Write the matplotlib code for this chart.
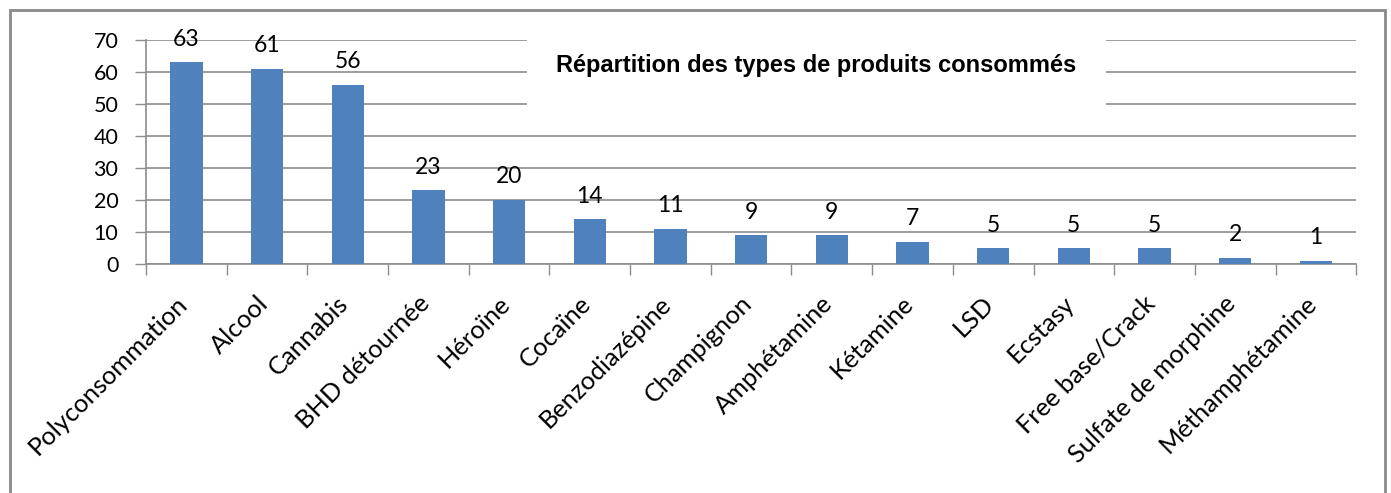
import matplotlib

matplotlib.use("Agg")
import matplotlib.pyplot as plt  # noqa: E402
from matplotlib.patches import Rectangle  # noqa: E402

produits = [
    "Polyconsommation", "Alcool", "Cannabis", "BHD détournée", "Héroïne",
    "Cocaïne", "Benzodiazépine", "Champignon", "Amphétamine", "Kétamine",
    "LSD", "Ecstasy", "Free base/Crack", "Sulfate de morphine", "Méthamphétamine",
]
effectifs = [63, 61, 56, 23, 20, 14, 11, 9, 9, 7, 5, 5, 5, 2, 1]
titre = "Répartition des types de produits consommés"

BAR = "#4F81BD"
GRID = "#8C8C8C"
FONT = "Lato"

fig = plt.figure(figsize=(13.91, 4.93), dpi=100)
ax = fig.add_axes([0.105, 0.4645, 0.870, 0.4544])

x = list(range(len(produits)))
bars = ax.bar(x, effectifs, width=0.4, color=BAR, zorder=3)
for b, v in zip(bars, effectifs):
    ax.annotate(str(v), (b.get_x() + b.get_width() / 2, v), xytext=(0, 9),
                textcoords="offset points", ha="center", va="bottom",
                fontsize=16.5, family=FONT, color="black")

ax.set_xlim(-0.5, len(produits) - 0.5)
ax.set_ylim(0, 70)
ax.set_yticks(range(0, 71, 10))
# category boundaries get the tick marks, names are placed under each bar
ax.set_xticks([i - 0.5 for i in range(len(produits) + 1)])
ax.set_xticklabels([])
for i, nom in enumerate(produits):
    ax.annotate(nom, (i, 0), xycoords=("data", "axes fraction"),
                xytext=(-8, -20), textcoords="offset points",
                rotation=45, ha="right", va="top", rotation_mode="anchor",
                fontsize=18.3, family=FONT)
ax.tick_params(axis="x", length=8, color=GRID, width=1)
ax.tick_params(axis="y", length=8, color=GRID, width=1, labelsize=15.5, pad=12)
for lab in ax.get_yticklabels():
    lab.set_family(FONT)

ax.grid(axis="y", color=GRID, linewidth=1.2, zorder=0)
ax.set_axisbelow(True)
for s in ("top", "right"):
    ax.spines[s].set_visible(False)
for s in ("left", "bottom"):
    ax.spines[s].set_color(GRID)
    ax.spines[s].set_linewidth(1.2)

# white box behind the title, hiding the gridlines
ax.add_patch(Rectangle((0.315, 0.686), 0.478, 0.34, transform=ax.transAxes,
                       facecolor="white", edgecolor="none", zorder=1, clip_on=False))
ax.text(0.554, 0.884, titre, transform=ax.transAxes, ha="center", va="center",
        fontsize=17, fontweight="bold", family="Liberation Sans", zorder=4)

# outer chart frame
fig.add_artist(Rectangle((0.0072, -0.05), 0.9885, 1.03, transform=fig.transFigure,
                         facecolor="none", edgecolor="#8A8A8A", linewidth=2))

fig.savefig("out.png", dpi=100)
